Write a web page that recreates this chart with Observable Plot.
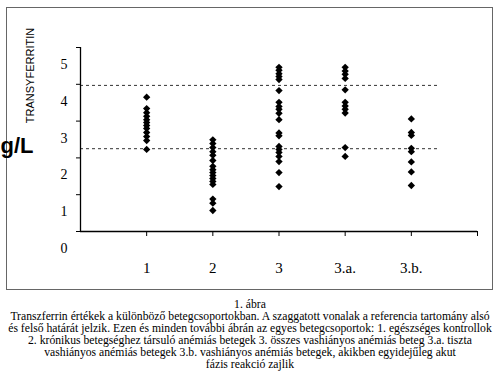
<!DOCTYPE html>
<html>
<head>
<meta charset="utf-8">
<script src="https://cdn.jsdelivr.net/npm/d3@7"></script>
<script src="https://cdn.jsdelivr.net/npm/@observablehq/plot@0.6"></script>
<style>
  html, body { margin: 0; padding: 0; background: #fff; }
  body { width: 500px; height: 374px; position: relative; overflow: hidden; }
  #chart { position: absolute; left: 0; top: 0; }
  #caption { position: absolute; left: 0; top: 299px; width: 500px; text-align: center;
             font: 11.7px "Liberation Serif", "Times New Roman", serif; line-height: 12px; color: #000; }
</style>
</head>
<body>
<div id="chart"></div>
<div id="caption">1. ábra<br>Transzferrin értékek a különböző betegcsoportokban. A szaggatott vonalak a referencia tartomány alsó<br>és felső határát jelzik. Ezen és minden további ábrán az egyes betegcsoportok: 1. egészséges kontrollok<br>2. krónikus betegséghez társuló anémiás betegek 3. összes vashiányos anémiás beteg 3.a. tiszta<br>vashiányos anémiás betegek 3.b. vashiányos anémiás betegek, akikben egyidejűleg akut<br>fázis reakció zajlik</div>
<script>
// Categories (x axis)
const categories = ["1", "2", "3", "3.a.", "3.b."];
// Transferrin values (g/L) per group
const group1 = [3.65, 3.34, 3.23, 3.13, 3.04, 2.96, 2.88, 2.80, 2.69, 2.58, 2.47, 2.23];
const group2 = [2.49, 2.39, 2.28, 2.17, 2.07, 1.93, 1.77, 1.68, 1.60, 1.52, 1.44, 1.36, 1.28, 0.88, 0.77, 0.57];
const group3 = [4.46, 4.38, 4.29, 4.21, 4.13, 3.83, 3.51, 3.40, 3.32, 3.21, 3.04, 2.68, 2.60, 2.31, 2.23, 2.15, 2.04, 1.90, 1.60, 1.22];
const group3a = [4.46, 4.36, 4.27, 4.16, 3.85, 3.51, 3.41, 3.32, 3.22, 2.28, 2.04];
const group3b = [3.06, 2.69, 2.61, 2.26, 2.17, 1.89, 1.62, 1.25];
// Reference range (dashed lines)
const refRange = [2.25, 3.97];
const refLineEnd = 5.4;
// Axis ticks
const yTicks = [0, 1, 2, 3, 4, 5];
const xTicks = [1, 2, 3, 4, 5, 6];
// Axis titles
const unitLabel = "g/L";
const nameLabel = "TRANSYFERRITIN";

const groups = [group1, group2, group3, group3a, group3b];
const data = groups.flatMap((vals, i) => vals.map(v => ({group: categories[i], pos: i + 1, value: v})));

const serif = "'Liberation Serif', 'Times New Roman', serif";
const sans = "'Liberation Sans', Arial, sans-serif";
const chart = Plot.plot({
  width: 500,
  height: 290,
  marginLeft: 80,
  marginRight: 23,
  marginTop: 47,
  marginBottom: 59,
  style: {fontSize: "15px", fontFamily: serif, color: "#000", background: "transparent"},
  x: {domain: [0, categories.length + 1], label: null},
  y: {domain: [0, 5], label: null},
  marks: [
    Plot.ruleY(refRange, {x1: 0, x2: refLineEnd, stroke: "#333", strokeWidth: 1, strokeDasharray: "3,3"}),
    Plot.dot(data, {x: "pos", y: "value", symbol: "diamond2", r: 3.3, fill: "#000"}),
    Plot.ruleY([0], {x1: 0, x2: categories.length + 1, stroke: "#000", strokeWidth: 1.3}),
    Plot.ruleX([0], {y1: 0, y2: 5, stroke: "#000", strokeWidth: 1.3}),
    Plot.axisY(yTicks, {tickSize: 4, tickFormat: () => " ", stroke: "#000", label: null}),
    Plot.axisX(xTicks, {tickSize: 5, tickPadding: 26, fontSize: 15, fontFamily: serif,
      tickFormat: d => categories[d - 1] ?? "", label: null}),
    Plot.axisY(yTicks, {tickSize: 0, tickPadding: 13, dy: 17, fontSize: 14, fontFamily: serif,
      tickFormat: d => String(d), label: null})
  ]
});
// Outer box and axis titles drawn inside the same SVG
const svg = d3.select(chart);
svg.insert("rect", ":first-child")
  .attr("x", 6.5).attr("y", 7.5).attr("width", 486).attr("height", 282)
  .attr("fill", "none").attr("stroke", "#666").attr("stroke-width", 1);
svg.append("text").text(unitLabel)
  .attr("x", 17).attr("y", 153)
  .attr("font-family", sans).attr("font-weight", "bold").attr("font-size", 22).attr("fill", "#000");
svg.append("text").text(nameLabel)
  .attr("transform", "translate(34,75.5) rotate(-90)")
  .attr("text-anchor", "middle")
  .attr("font-family", sans).attr("font-size", 11).attr("fill", "#000");
document.getElementById("chart").appendChild(chart);
</script>
</body>
</html>
